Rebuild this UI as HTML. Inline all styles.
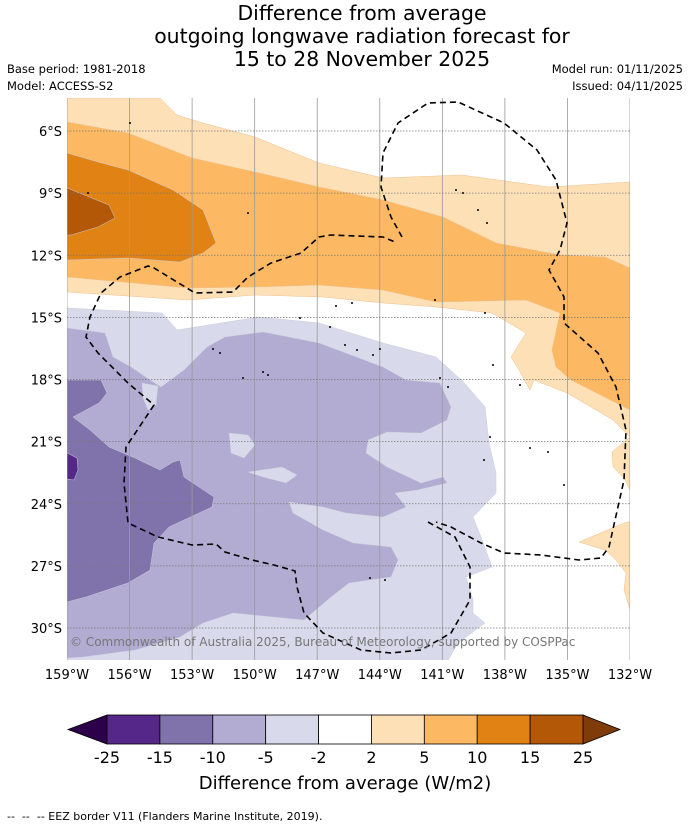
<!DOCTYPE html>
<html><head><meta charset="utf-8"><style>
body{margin:0;background:#fff;width:690px;height:827px;overflow:hidden;font-family:"DejaVu Sans","Liberation Sans",sans-serif}
svg text{font-family:"DejaVu Sans","Liberation Sans",sans-serif}
</style></head><body>
<svg id="fig" width="690" height="827" viewBox="0 0 690 827" xmlns="http://www.w3.org/2000/svg">
<g text-anchor="middle" font-size="20.4" fill="#000">
<text x="362" y="20">Difference from average</text>
<text x="362" y="43">outgoing longwave radiation forecast for</text>
<text x="362" y="66">15 to 28 November 2025</text>
</g>
<text x="7" y="73" font-size="11.5">Base period: 1981-2018</text>
<text x="7" y="90" font-size="11.5">Model: ACCESS-S2</text>
<text x="683" y="73" font-size="11.5" text-anchor="end">Model run: 01/11/2025</text>
<text x="683" y="90" font-size="11.5" text-anchor="end">Issued: 04/11/2025</text>
<defs><clipPath id="pc"><rect x="67" y="98" width="563" height="562"/></clipPath></defs>
<g id="map" clip-path="url(#pc)"></g>
<g id="axes"></g>
<text x="70" y="646" font-size="12" fill="#777">© Commonwealth of Australia 2025, Bureau of Meteorology, supported by COSPPac</text>
<g id="cbar"></g>
<text x="345" y="789" font-size="18" text-anchor="middle">Difference from average (W/m2)</text>
<text x="7" y="820" font-size="11" xml:space="preserve">--  --  -- EEZ border V11 (Flanders Marine Institute, 2019).</text>
</svg>
<script>
// axis data
const lonTicks=[-159,-156,-153,-150,-147,-144,-141,-138,-135,-132];
const latTicks=[-6,-9,-12,-15,-18,-21,-24,-27,-30];
const lonLabels=["159°W","156°W","153°W","150°W","147°W","144°W","141°W","138°W","135°W","132°W"];
const latLabels=["6°S","9°S","12°S","15°S","18°S","21°S","24°S","27°S","30°S"];
// colorbar data
const levels=[-25,-15,-10,-5,-2,2,5,10,15,25];
const levelColors=["#542788","#8073ac","#b2abd2","#d8daeb","#ffffff","#fee0b6","#fdb863","#e08214","#b35806"];
const underColor="#2d004b", overColor="#7f3b08";
// contour geometry (map-space outlines of each filled level)
const contours=[
 {c:"#fee0b6",p:[[67,98],[160,98],[177,115],[203,123],[255,137],[319,163],[383,178],[462,175],[549,187],[630,182],[630,437],[613,420],[567,393],[534,380],[530,390],[519,370],[511,357],[526,333],[492,313],[436,307],[383,303],[323,297],[255,295],[188,300],[67,292]]},
 {c:"#fee0b6",p:[[630,437],[612,452],[613,467],[624,478],[630,490]]},
 {c:"#fee0b6",p:[[579,542],[624,523],[630,522],[630,610],[624,590],[626,573],[616,560],[605,550]]},
 {c:"#fdb863",p:[[67,122],[128,133],[192,158],[255,172],[319,187],[383,200],[443,217],[496,243],[560,255],[605,257],[630,268],[630,410],[571,380],[556,367],[552,350],[560,313],[526,300],[436,302],[383,290],[319,285],[255,287],[188,288],[67,277]]},
 {c:"#e08214",p:[[67,153],[98,162],[128,170],[173,190],[203,210],[216,243],[203,253],[180,262],[128,258],[67,260]]},
 {c:"#b35806",p:[[67,188],[109,205],[115,218],[98,227],[71,235],[67,235]]},
 {c:"#d8daeb",p:[[67,308],[162,313],[177,330],[259,317],[319,323],[383,343],[436,357],[458,377],[462,380],[485,407],[489,443],[496,473],[496,493],[473,517],[481,537],[492,567],[466,577],[473,600],[473,613],[485,623],[458,643],[447,662],[67,662]]},
 {c:"#b2abd2",p:[[67,328],[105,333],[113,357],[131,367],[150,380],[161,387],[184,370],[207,347],[225,337],[263,332],[319,343],[383,367],[406,380],[440,383],[451,407],[447,420],[421,433],[387,432],[368,440],[366,453],[387,467],[421,483],[443,477],[447,483],[417,490],[395,493],[406,507],[383,517],[346,513],[323,507],[289,502],[293,513],[323,530],[353,543],[391,547],[398,560],[391,577],[349,583],[331,597],[304,620],[233,613],[203,623],[180,637],[135,650],[83,657],[67,658]]},
 {c:"#d8daeb",p:[[229,433],[248,435],[255,445],[244,458],[231,453]]},
 {c:"#d8daeb",p:[[248,472],[282,467],[297,475],[286,483],[263,477]]},
 {c:"#d8daeb",p:[[142,383],[158,386],[156,405],[148,410],[143,398]]},
 {c:"#8073ac",p:[[67,380],[101,380],[107,393],[99,403],[73,417],[90,430],[109,447],[135,458],[160,470],[173,462],[180,460],[184,477],[214,497],[212,507],[169,527],[154,543],[150,570],[128,583],[86,597],[67,602]]},
 {c:"#542788",p:[[67,453],[77,458],[78,470],[74,480],[67,479]]}
];
const eez1=[[402,237],[391,217],[381,187],[383,153],[398,123],[428,103],[458,102],[504,123],[537,150],[556,180],[567,223],[560,250],[549,270],[564,297],[564,323],[598,353],[616,387],[626,430],[624,480],[609,547],[601,558],[579,560],[541,555],[504,553],[481,543],[451,527],[436,522]];
const eez2=[[428,522],[455,537],[470,567],[470,600],[451,633],[421,650],[391,653],[361,650],[323,633],[304,613],[297,587],[295,571],[274,565],[252,560],[225,552],[216,544],[192,545],[158,537],[128,523],[124,483],[126,447],[154,405],[128,383],[98,353],[86,337],[90,317],[101,293],[120,277],[148,266],[154,268],[195,293],[233,292],[248,277],[271,263],[301,253],[319,237],[331,235],[383,237],[395,242]];
const islands=[[130,123],[88,193],[248,213],[456,190],[463,193],[478,210],[487,223],[336,306],[352,303],[300,318],[330,327],[345,345],[357,350],[373,355],[380,349],[263,372],[268,375],[220,353],[213,349],[435,300],[485,313],[440,378],[448,387],[493,365],[520,385],[490,437],[484,460],[530,448],[548,452],[564,485],[370,578],[385,580],[243,378]];
const NS="http://www.w3.org/2000/svg";
const X0=67,X1=630,Y0=131,Y1=628;
const xS=lon=>X0+(lon-(-159))/27*(X1-X0);
const yS=lat=>Y0+((-lat)-6)/24*(Y1-Y0);
function mk(t,a,parent){const e=document.createElementNS(NS,t);for(const k in a)e.setAttribute(k,a[k]);parent.appendChild(e);return e;}
const map=document.getElementById('map');
contours.forEach((r,i)=>{
 const e=mk('polygon',{points:r.p.map(q=>q.join(',')).join(' '),fill:r.c,stroke:r.c==="#fee0b6"||r.c==="#fdb863"?"#ecc08e":"#cacadb","stroke-width":"0.5"},map);
 
 
});
const axes=document.getElementById('axes');
lonTicks.forEach((lon,i)=>{
 const l=mk('line',{x1:xS(lon),x2:xS(lon),y1:98,y2:660,stroke:"#999","stroke-width":"0.8"},map);
 
 
 const t=mk('text',{x:xS(lon),y:679,"font-size":"13","text-anchor":"middle"},axes);
 t.textContent=lonLabels[i];
 
 
});
latTicks.forEach((lat,i)=>{
 const l=mk('line',{x1:67,x2:630,y1:yS(lat),y2:yS(lat),stroke:"#777","stroke-width":"0.7","stroke-dasharray":"1.5,1.5"},map);
 
 
 const t=mk('text',{x:62,y:yS(lat)+5,"font-size":"13","text-anchor":"end"},axes);
 t.textContent=latLabels[i];
 
 
});
islands.forEach(q=>{
 const e=mk('circle',{cx:q[0],cy:q[1],r:1,fill:"#000"},map);
 
 
});
[eez1,eez2].forEach(pl=>{
 const e=mk('polyline',{points:pl.map(q=>q.join(',')).join(' '),fill:"none",stroke:"#000","stroke-width":"1.6","stroke-dasharray":"6,4"},map);
 
 
});
const cb=document.getElementById('cbar');
const CB0=107,CB1=583,CY=715,CH=29;
const bw=(CB1-CB0)/levelColors.length;
const lt=mk('polygon',{points:`${CB0},${CY} 68,${CY+CH/2} ${CB0},${CY+CH}`,fill:underColor,stroke:"#000","stroke-width":"0.8"},cb);


const rt=mk('polygon',{points:`${CB1},${CY} 620,${CY+CH/2} ${CB1},${CY+CH}`,fill:overColor,stroke:"#000","stroke-width":"0.8"},cb);


levelColors.forEach((c,i)=>{
 const r=mk('rect',{x:CB0+i*bw,y:CY,width:bw,height:CH,fill:c,stroke:"#000","stroke-width":"0.8"},cb);
 
 
});
levels.forEach((v,i)=>{
 const t=mk('text',{x:CB0+i*bw,y:763,"font-size":"16","text-anchor":"middle"},cb);
 t.textContent=String(v);
 
 
});
</script>
</body></html>
